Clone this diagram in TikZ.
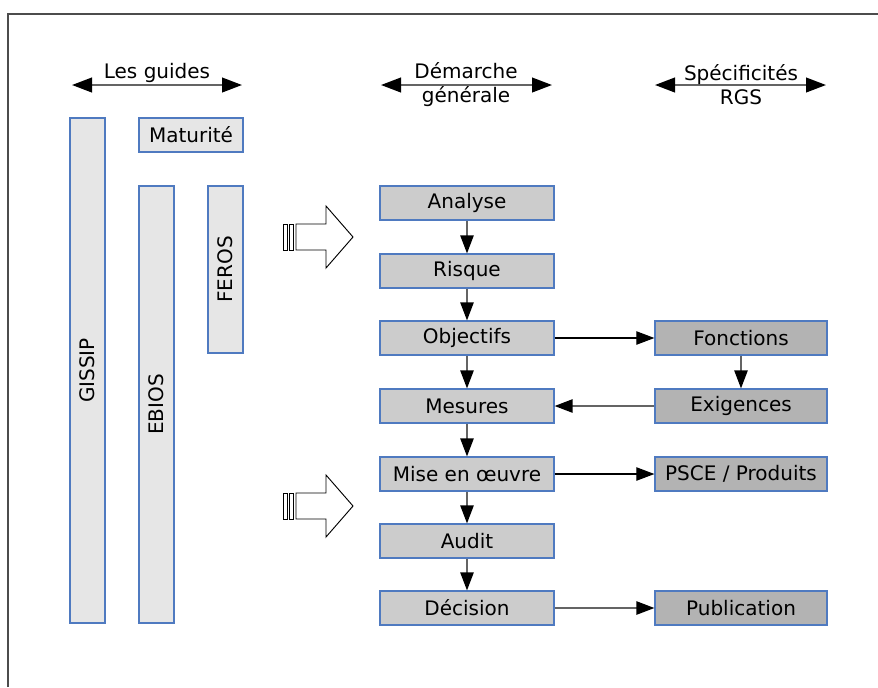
\documentclass[tikz,border=0pt]{standalone}
\usepackage{fontspec}
\setmainfont{DejaVu Sans}
\usetikzlibrary{arrows.meta}
\definecolor{boxblue}{RGB}{79,122,192}
\definecolor{guidefill}{RGB}{230,230,230}
\definecolor{stepfill}{RGB}{204,204,204}
\definecolor{rgsfill}{RGB}{179,179,179}
\definecolor{linkgray}{RGB}{100,100,100}
\begin{document}
\begin{tikzpicture}[x=0.75pt,y=-0.75pt]

    \tikzset{
      txt/.style={font=\fontsize{15}{17.25}\selectfont},
      guide/.style={txt, draw=boxblue, fill=guidefill, line width=0.9pt,
        inner sep=0pt, minimum height=26.25pt},
      etape/.style={txt, draw=boxblue, fill=stepfill, line width=0.9pt,
        inner sep=0pt, minimum width=130.5pt, minimum height=25.5pt},
      rgs/.style={txt, draw=boxblue, fill=rgsfill, line width=0.9pt,
        inner sep=0pt, minimum width=129pt, minimum height=25.5pt},
      link/.style={draw=linkgray, line width=1.1pt,
        -{Triangle[length=13.5pt,width=10pt,color=black]}},
      span/.style={draw=linkgray, line width=1.5pt,
        {Triangle[length=15pt,width=11pt,color=black]}-{Triangle[length=15pt,width=11pt,color=black]}},
      bigarrow/.style={draw=black, fill=white, line width=0.7pt},
    }
    \useasboundingbox (0,0) rectangle (878,687);
    \draw[color={black!70}, line width=1.1pt] (8,687)--(8,14)--(878,14);

    % en-tetes
    \coordinate (g1) at (72,85);   \coordinate (g2) at (242,85);
    \coordinate (d1) at (381,85);  \coordinate (d2) at (552,85);
    \coordinate (s1) at (655,85);  \coordinate (s2) at (826,85);
    \draw[span] (g1)--(g2);
    \draw[span] (d1)--(d2);
    \draw[span] (s1)--(s2);
    \node[txt] (guides) at (157,73) {Les guides};
    \node[txt, align=center, font=\fontsize{15}{16.5}\selectfont] (demarche) at (466,85)
      {Démarche\\[1.5pt]générale};
    \node[txt, align=center, font=\fontsize{15}{16.5}\selectfont] (specif) at (741,85)
      {Spécificités\\[1.5pt]RGS};

    % les guides
    \node[guide, rotate=90, minimum width=378.75pt] (gissip) at (87.5,370.5) {GISSIP};
    \node[guide, minimum width=78pt, minimum height=25.5pt] (maturite) at (191,135) {Maturité};
    \node[guide, rotate=90, minimum width=327.75pt] (ebios) at (156.5,404.5) {EBIOS};
    \node[guide, rotate=90, minimum width=125.25pt] (feros) at (225.5,269.5) {FEROS};

    % fleches
    \foreach \y in {237,506} {
      \draw[bigarrow] (296,\y-13)--(326,\y-13)--(326,\y-31)--(353,\y)
        --(326,\y+31)--(326,\y+13)--(296,\y+13)--cycle;
      \draw[bigarrow] (283,\y-13) rectangle (287,\y+13);
      \draw[bigarrow] (289,\y-13) rectangle (293,\y+13);
    }

    % demarche generale
    \node[etape] (analyse) at (467,203) {Analyse};
    \node[etape] (risque) at (467,271) {Risque};
    \node[etape] (objectifs) at (467,338) {Objectifs};
    \node[etape] (mesures) at (467,406) {Mesures};
    \node[etape] (miseoeuvre) at (467,474) {Mise en œuvre};
    \node[etape] (audit) at (467,541) {Audit};
    \node[etape] (decision) at (467,608) {Décision};

    % specificites RGS
    \node[rgs] (fonctions) at (741,338) {Fonctions};
    \node[rgs] (exigences) at (741,406) {Exigences};
    \node[rgs] (psce) at (741,474) {PSCE / Produits};
    \node[rgs] (publication) at (741,608) {Publication};

    \draw[link] (analyse)--(risque);
    \draw[link] (risque)--(objectifs);
    \draw[link] (objectifs)--(mesures);
    \draw[link] (mesures)--(miseoeuvre);
    \draw[link] (miseoeuvre)--(audit);
    \draw[link] (audit)--(decision);
    \draw[link, draw=black, line width=0.8pt] (objectifs)--(fonctions);
    \draw[link] (fonctions)--(exigences);
    \draw[link] (exigences)--(mesures);
    \draw[link, draw=black, line width=0.8pt] (miseoeuvre)--(psce);
    \draw[link] (decision)--(publication);

\end{tikzpicture}
\end{document}
